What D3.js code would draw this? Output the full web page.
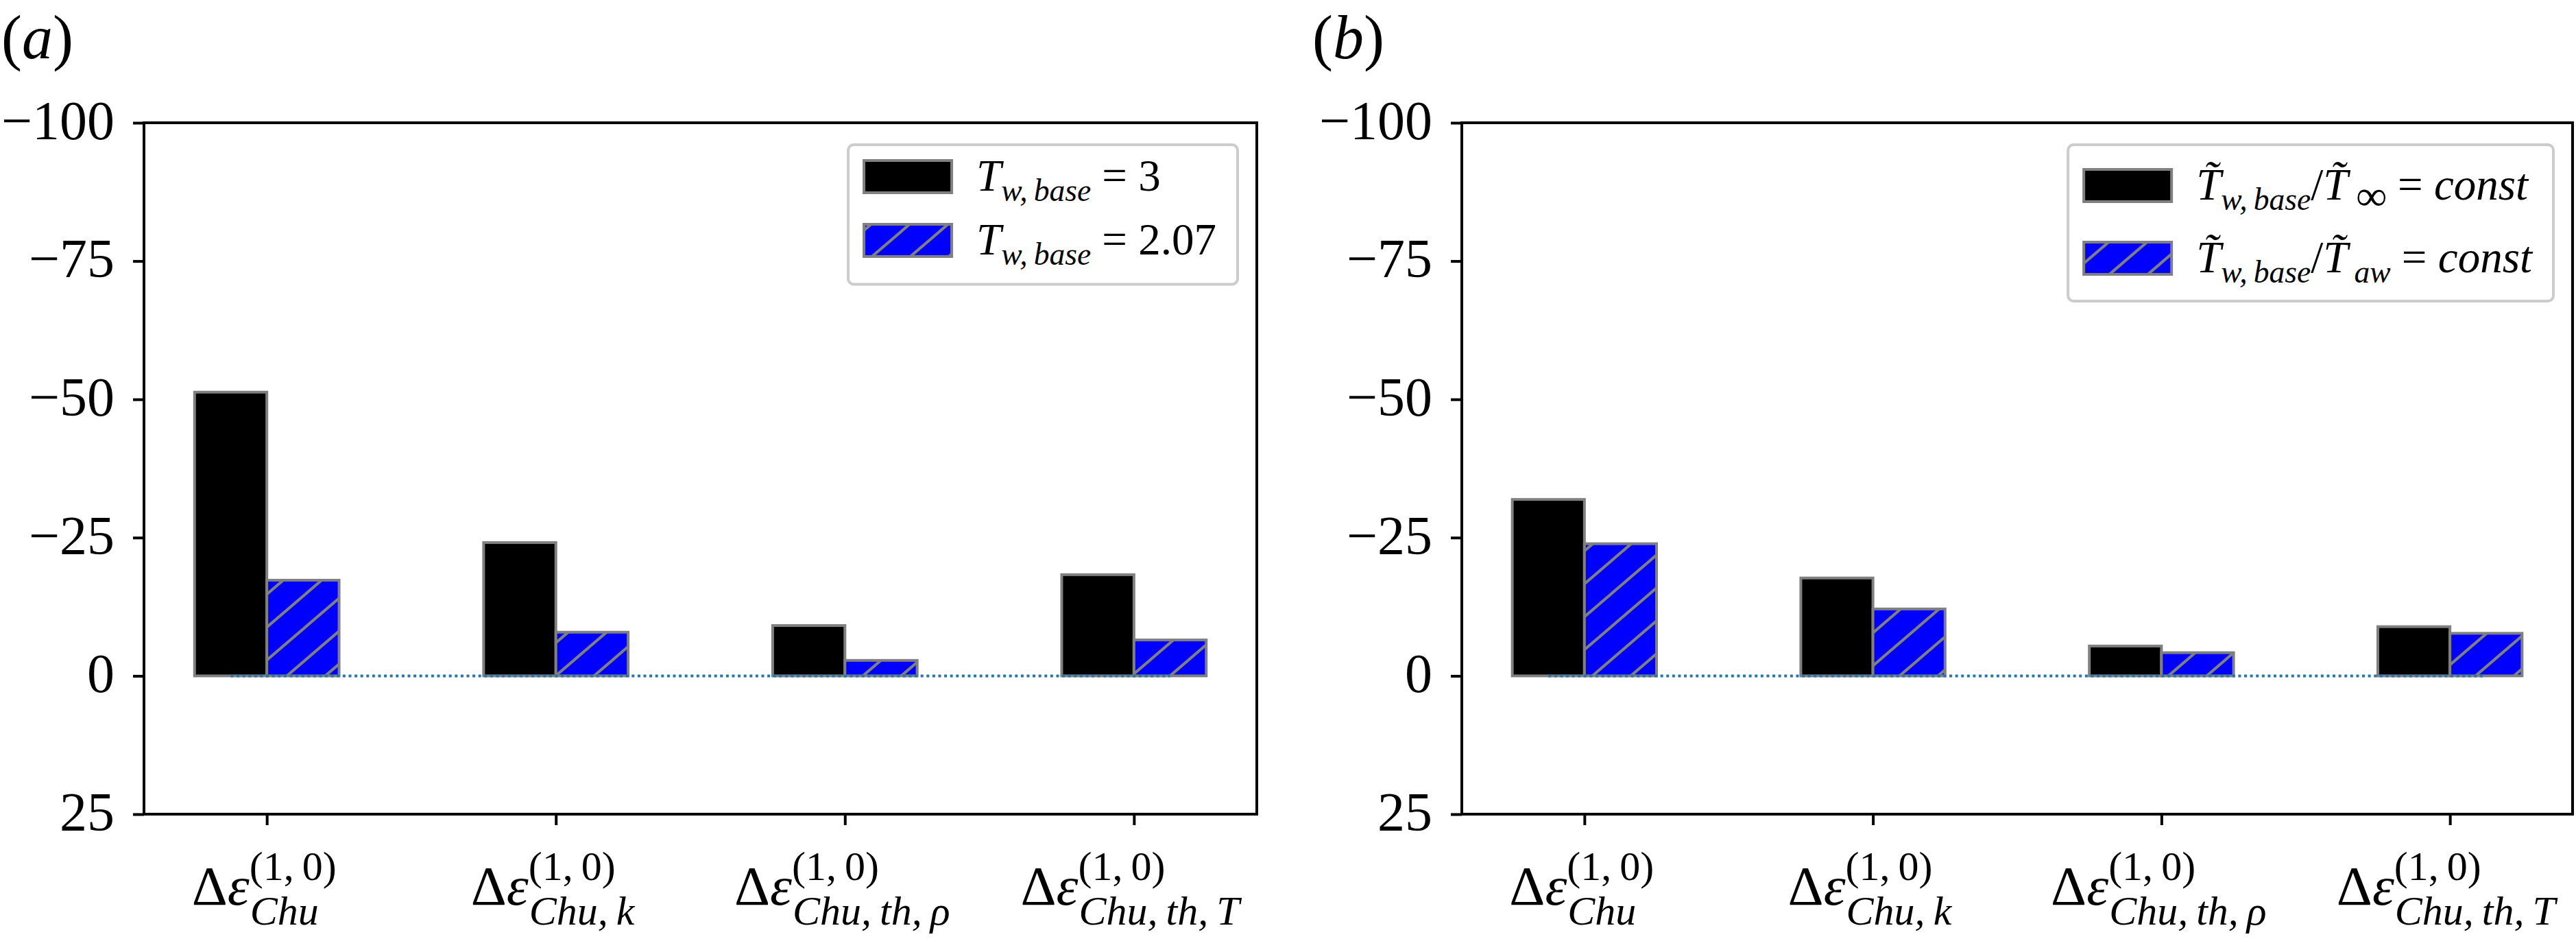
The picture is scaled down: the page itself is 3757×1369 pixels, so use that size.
<!DOCTYPE html>
<html lang="en">
<head>
    <meta charset="UTF-8">
    <title>Chu energy bar charts</title>
    <script src="https://cdn.jsdelivr.net/npm/d3@7"></script>
    <style>
        html, body { margin: 0; padding: 0; background: #fff; }
        svg { display: block; font-family: 'Liberation Serif', 'Times New Roman', serif; }
    </style>
</head>
<body>
    <div id="chart"></div>
    <script>
        // data (negative values plot upward, axis is inverted)
        const categories = ["Chu", "Chu,\u2009k", "Chu,\u2009th,\u2009ρ", "Chu,\u2009th,\u2009T"]
        const superscript = "(1,\u20090)"
        const yTicks = [-100, -75, -50, -25, 0, 25]

        // panel (a)
        const tw3 = [-51.3, -24.1, -9.1, -18.3]
        const tw207 = [-17.3, -7.9, -2.8, -6.5]
        // panel (b)
        const ratioInf = [-31.9, -17.7, -5.4, -8.9]
        const ratioAw = [-23.9, -12.1, -4.2, -7.7]

        // legend entries as [text, kind, size factor] pieces
        const legendA = [
            [["T", "it"], ["w,\u2009base", "sub"], ["\u00a0=\u00a03", "rm"]],
            [["T", "it"], ["w,\u2009base", "sub"], ["\u00a0=\u00a02.07", "rm"]]
        ]
        const legendB = [
            [["T\u0303", "it"], ["w,\u2009base", "sub"], ["/", "rm"], ["T\u0303", "it"], ["\u2009∞", "sub", 0.95], ["\u00a0=\u00a0", "rm"], ["const", "it"]],
            [["T\u0303", "it"], ["w,\u2009base", "sub"], ["/", "rm"], ["T\u0303", "it"], ["\u2009aw", "sub"], ["\u00a0=\u00a0", "rm"], ["const", "it"]]
        ]

        const W = 3757, H = 1369
        const axTop = 179, axBottom = 1187
        const grey = '#808080'

        const panels = [
            { tag: 'a', tagX: 2, left: 210, right: 1833, s1: tw3, s2: tw207, legend: legendA, firstRow: 46.5, rowGap: 93, bottomPad: 64 },
            { tag: 'b', tagX: 1914, left: 2132, right: 3752, s1: ratioInf, s2: ratioAw, legend: legendB, firstRow: 59.5, rowGap: 106, bottomPad: 62.5 }
        ]

        const svg = d3.select('#chart').append('svg')
            .attr('width', W)
            .attr('height', H)

        // hatch pattern for the second series
        let pat = svg.append('defs').append('pattern')
            .attr('id', 'hatch')
            .attr('patternUnits', 'userSpaceOnUse')
            .attr('width', 56)
            .attr('height', 48)
        pat.append('rect').attr('width', 56).attr('height', 48).attr('fill', '#0000ff')
        pat.append('path')
            .attr('d', 'M0,48 L56,0 M-14,12 L14,-12 M42,60 L70,36')
            .attr('stroke', grey)
            .attr('stroke-width', 4)

        // write mixed roman / italic / subscript text
        function mathText(sel, pieces, size, subShift) {
            let t = sel.append('text').attr('font-size', size)
            let shift = 0
            pieces.forEach(([s, kind, f]) => {
                let target = kind === 'sub' ? subShift : 0
                t.append('tspan')
                    .attr('dy', target - shift)
                    .attr('font-size', kind === 'sub' ? size * (f || 0.7) : size)
                    .attr('font-style', kind === 'rm' ? 'normal' : 'italic')
                    .text(s)
                shift = target
            })
            return t
        }

        let y = d3.scaleLinear().domain([-100, 25]).range([axTop, axBottom])

        panels.forEach(p => {
            let g = svg.append('g')
            let x = d3.scaleLinear().domain([-0.425, 3.425]).range([p.left, p.right])

            // panel tag
            let tag = g.append('text').attr('x', p.tagX).attr('y', 85).attr('font-size', 90)
            tag.append('tspan').text('(')
            tag.append('tspan').attr('font-style', 'italic').text(p.tag)
            tag.append('tspan').text(')')

            // bars
            let bars = g.append('g')
            bars.selectAll('.s1')
                .data(p.s1)
                .enter()
                .append('rect')
                .attr('x', (d, i) => x(i - 0.25))
                .attr('width', (d, i) => x(i) - x(i - 0.25))
                .attr('y', d => Math.min(y(d), y(0)))
                .attr('height', d => Math.abs(y(d) - y(0)))
                .attr('fill', '#000')
                .attr('stroke', grey)
                .attr('stroke-width', 4)
            bars.selectAll('.s2')
                .data(p.s2)
                .enter()
                .append('rect')
                .attr('x', (d, i) => x(i))
                .attr('width', (d, i) => x(i + 0.25) - x(i))
                .attr('y', d => Math.min(y(d), y(0)))
                .attr('height', d => Math.abs(y(d) - y(0)))
                .attr('fill', 'url(#hatch)')
                .attr('stroke', grey)
                .attr('stroke-width', 4)

            // dotted zero line
            g.append('line')
                .attr('x1', x(-0.125))
                .attr('x2', x(categories.length - 1 + 0.125))
                .attr('y1', y(0))
                .attr('y2', y(0))
                .attr('stroke', '#1f77b4')
                .attr('stroke-width', 4)
                .attr('stroke-dasharray', '4 4.6')

            // y axis
            let yAxis = d3.axisLeft(y)
                .tickValues(yTicks)
                .tickSize(16)
                .tickSizeOuter(0)
                .tickPadding(27)
                .tickFormat(d => d < 0 ? '\u2212' + (-d) : d)
            let ya = g.append('g')
                .attr('transform', `translate(${p.left}, 0)`)
                .call(yAxis)
            ya.select('.domain').remove()
            ya.selectAll('line').attr('stroke', '#000').attr('stroke-width', 4)
            ya.selectAll('text')
                .attr('font-family', "'Liberation Serif', 'Times New Roman', serif")
                .attr('font-size', 80)
                .attr('fill', '#000')
                .attr('dy', '0.29em')

            // x axis ticks
            let xAxis = d3.axisBottom(x)
                .tickValues(d3.range(categories.length))
                .tickSize(16)
                .tickSizeOuter(0)
                .tickFormat('')
            let xa = g.append('g')
                .attr('transform', `translate(0, ${axBottom})`)
                .call(xAxis)
            xa.select('.domain').remove()
            xa.selectAll('line').attr('stroke', '#000').attr('stroke-width', 4)

            // x tick labels: Δε^(1,0)_sub as one text element
            categories.forEach((c, i) => {
                let lg = g.append('g')
                let t = lg.append('text').attr('font-size', 81)
                t.append('tspan').text('Δ')
                t.append('tspan').attr('font-style', 'italic').text('ε')
                let w = t.node().getComputedTextLength()
                t.append('tspan')
                    .attr('x', w)
                    .attr('dy', -36)
                    .attr('font-size', 60)
                    .text(superscript)
                t.append('tspan')
                    .attr('x', w + 1)
                    .attr('dy', 65)
                    .attr('font-size', 60)
                    .attr('font-style', 'italic')
                    .text(c)
                let bb = lg.node().getBBox()
                lg.attr('transform', `translate(${x(i) - 4 - bb.x - bb.width / 2}, 1319)`)
            })

            // axes frame
            g.append('rect')
                .attr('x', p.left)
                .attr('y', axTop)
                .attr('width', p.right - p.left)
                .attr('height', axBottom - axTop)
                .attr('fill', 'none')
                .attr('stroke', '#000')
                .attr('stroke-width', 4)

            // legend
            let leg = g.append('g')
            let legTop = axTop + 32
            let box = leg.append('rect')
            let textEnd = 0
            p.legend.forEach((pieces, i) => {
                let cy = legTop + p.firstRow + i * p.rowGap
                leg.append('rect')
                    .attr('x', 0)
                    .attr('y', cy - 23.5)
                    .attr('width', 128)
                    .attr('height', 47)
                    .attr('fill', i === 0 ? '#000' : 'url(#hatch)')
                    .attr('stroke', grey)
                    .attr('stroke-width', 4)
                let t = mathText(leg, pieces, 65, 15)
                t.attr('x', 164).attr('y', cy + 20)
                textEnd = Math.max(textEnd, 164 + t.node().getComputedTextLength())
            })
            let lastCy = legTop + p.firstRow + (p.legend.length - 1) * p.rowGap
            box.attr('x', -23)
                .attr('y', legTop)
                .attr('width', textEnd + 31 + 23)
                .attr('height', lastCy + p.bottomPad - legTop)
                .attr('rx', 8)
                .attr('fill', '#fff')
                .attr('fill-opacity', 0.8)
                .attr('stroke', '#cccccc')
                .attr('stroke-width', 4)
            leg.attr('transform', `translate(${p.right - 28 - (textEnd + 31)}, 0)`)
        })
    </script>
</body>
</html>
